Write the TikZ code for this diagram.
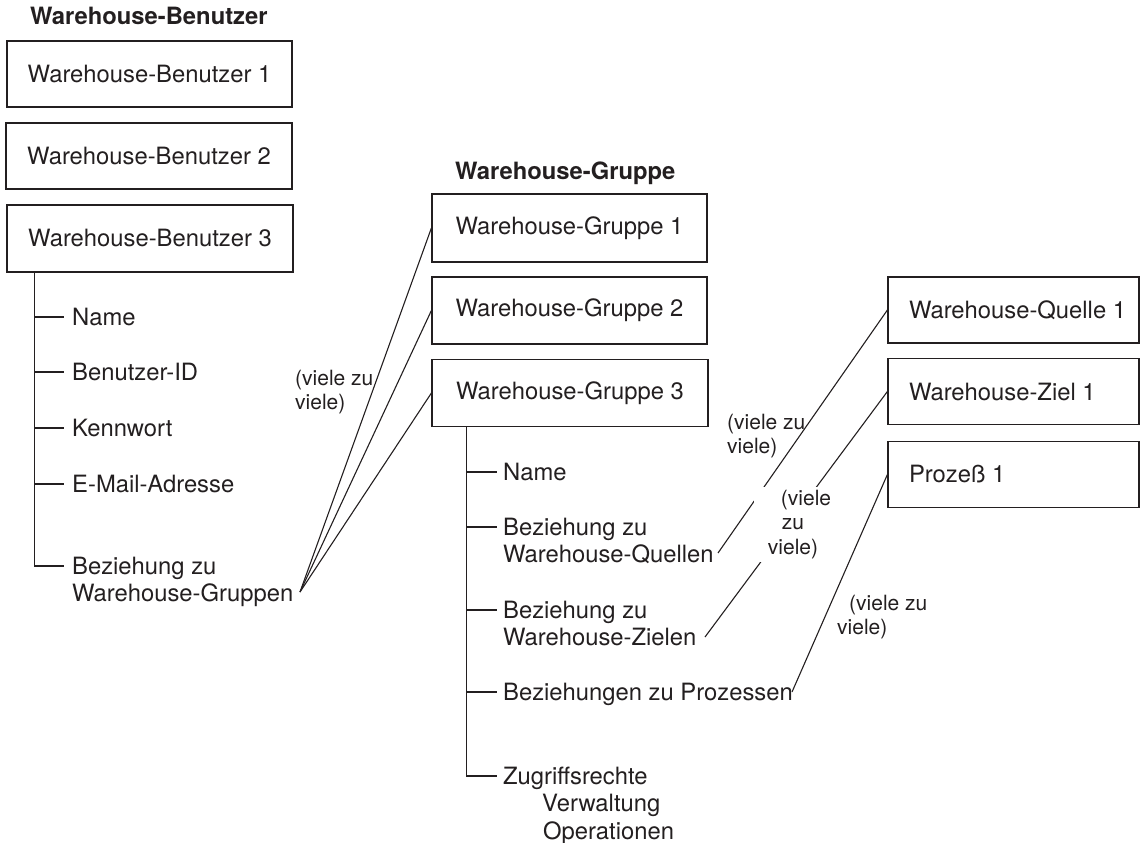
\documentclass[tikz,border=0pt]{standalone}
\usepackage{fontspec}
\setmainfont{TeX Gyre Heros}
\usetikzlibrary{calc}
\definecolor{ink}{HTML}{231F20}
\newcommand\mainsz{\fontsize{23.8}{27.5}\selectfont}
\newcommand\notesz{\fontsize{21}{24.5}\selectfont}
\newcommand\lefttext[1]{\makebox[209pt][l]{#1}}
\begin{document}
\begin{tikzpicture}[x=1pt,y=-1pt,
  box/.style={draw=ink, line width=1.2pt, inner sep=0pt, text=ink, font=\mainsz},
  rbox/.style={box, inner xsep=21pt, minimum height=66pt},
  item/.style={anchor=base west, inner sep=0pt, text=ink, font=\mainsz},
  heading/.style={anchor=base west, inner sep=0pt, text=ink, font=\mainsz\bfseries},
  note/.style={anchor=base west, inner sep=0pt, text=ink, font=\notesz},
  link/.style={draw=ink, line width=1.1pt}]
\useasboundingbox (0,0) rectangle (1143,843);

% ---- users ----
\node[heading] (uh) at (30,25) {Warehouse-Benutzer};
\node[box, minimum width=285pt, minimum height=66pt] (b1) at (149.5,74) {Warehouse-Benutzer 1};
\node[box, minimum width=286pt, minimum height=66pt] (b2) at (149,156) {Warehouse-Benutzer 2};
\node[box, minimum width=286pt, minimum height=67pt] (b3) at (150,238.5) {Warehouse-Benutzer 3};

\node[item] (un) at (72,325) {Name};
\node[item] (ui) at (72,380) {Benutzer-ID};
\node[item] (uk) at (72,436) {Kennwort};
\node[item] (um) at (72,492) {E-Mail-Adresse};
\node[item] (ug) at (72,574) {\begin{tabular}[t]{@{}l@{}}Beziehung zu\\Warehouse-Gruppen\end{tabular}};

\coordinate (ut) at ($(b3.south west)+(28,0)$);
\foreach \n in {un,ui,uk,um,ug}
  \draw[link] (ut) |- ($(\n.base west)+(-8,-8)$);

% ---- groups ----
\node[heading] (gh) at (455,179) {Warehouse-Gruppe};
\node[box, minimum width=275pt, minimum height=68pt] (g1) at (569.5,228) {Warehouse-Gruppe 1};
\node[box, minimum width=275pt, minimum height=67pt] (g2) at (569.5,310.5) {Warehouse-Gruppe 2};
\node[box, minimum width=276pt, minimum height=67pt] (g3) at (570,393) {Warehouse-Gruppe 3};

\node[item] (gn) at (503,480) {Name};
\node[item] (gq) at (503,535) {\begin{tabular}[t]{@{}l@{}}Beziehung zu\\Warehouse-Quellen\end{tabular}};
\node[item] (gz) at (503,618) {\begin{tabular}[t]{@{}l@{}}Beziehung zu\\Warehouse-Zielen\end{tabular}};
\node[item] (gp) at (503,700) {Beziehungen zu Prozessen};
\node[item] (ga) at (503,784) {\begin{tabular}[t]{@{}l@{}}Zugriffsrechte\\\hspace{39pt}Verwaltung\\\hspace{40pt}Operationen\end{tabular}};

\coordinate (gt) at ($(g3.south west)+(35,0)$);
\foreach \n in {gn,gq,gz,gp,ga}
  \draw[link] (gt) |- ($(\n.base west)+(-6,-8)$);

% ---- sources, targets, processes ----
\node[rbox] (q1) at (1013.5,310) {\lefttext{Warehouse-Quelle 1}};
\node[rbox] (z1) at (1013.5,391.5) {\lefttext{Warehouse-Ziel 1}};
\node[rbox] (p1) at (1013.5,474.5) {\lefttext{Prozeß 1}};

% ---- many-to-many relations ----
\coordinate (ue) at (300,592);
\coordinate (qe) at (718,553);
\coordinate (ze) at (705,637);
\coordinate (pe) at (792,692);

\draw[link] (ue) -- (g1.west);
\draw[link] (ue) -- (g2.west);
\draw[link] (ue) -- (g3.west);
\draw[link] (qe) -- (q1.west);
\draw[link] (ze) -- (z1.west);
\draw[link] (pe) -- (p1.west);

\node[note] (nu) at (295,385) {\begin{tabular}[t]{@{}l@{}}(viele zu\\viele)\end{tabular}};
\node[note] (nq) at (727,429) {\begin{tabular}[t]{@{}l@{}}(viele zu\\viele)\end{tabular}};
\node[note, anchor=base, fill=white, inner sep=1pt] (nz) at (793,505) {\begin{tabular}[t]{@{}c@{}}\hspace{26pt}(viele\\zu\\viele)\end{tabular}};
\node[note] (np) at (837,610) {\begin{tabular}[t]{@{}l@{}}\hspace{12pt}(viele zu\\viele)\end{tabular}};
\end{tikzpicture}
\end{document}
